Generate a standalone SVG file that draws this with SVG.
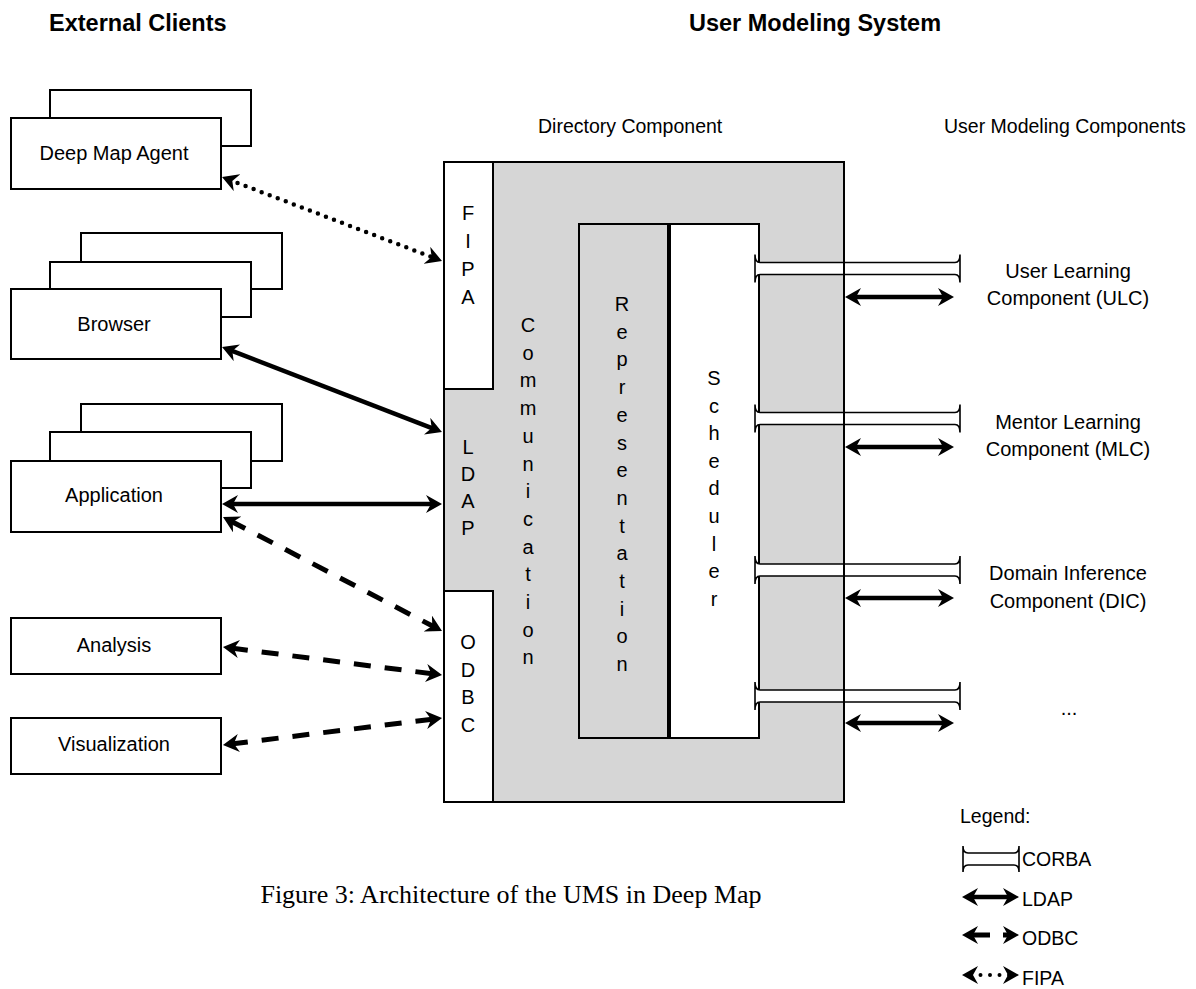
<svg xmlns="http://www.w3.org/2000/svg" width="1196" height="989" viewBox="0 0 1196 989">
<style>
text{font-family:"Liberation Sans",Arial,sans-serif;font-size:20px;fill:#000}
.hdr{font-weight:bold;font-size:23.5px}
.lbl{font-size:19.5px}
.mid{text-anchor:middle}
.box{fill:#fff;stroke:#000;stroke-width:2}
.gray{fill:#d6d6d6;stroke:#000;stroke-width:2}
.pipe{fill:#fff;stroke:#000;stroke-width:1.6;stroke-linejoin:miter}
.ldap{fill:none;stroke:#000;stroke-width:4.5;marker-start:url(#ah);marker-end:url(#ah)}
.odbc{fill:none;stroke:#000;stroke-width:5;stroke-dasharray:17 14;marker-start:url(#ah);marker-end:url(#ah)}
.fipa{fill:none;stroke:#000;stroke-width:4.5;stroke-linecap:round;stroke-dasharray:0 8.6;marker-start:url(#ah);marker-end:url(#ah)}
.cap{font-family:"Liberation Serif","Times New Roman",serif;font-size:26px}
</style>
<defs>
<marker id="ah" markerUnits="userSpaceOnUse" viewBox="0 0 16 18" markerWidth="16" markerHeight="18" refX="8" refY="9" orient="auto-start-reverse">
<path d="M0,0 L16,9 L0,18 L5,9 Z" fill="#000"/>
</marker>
</defs>

<text class="hdr" x="49" y="31">External Clients</text>
<text class="hdr" x="689" y="31">User Modeling System</text>
<text class="lbl" x="538" y="133">Directory Component</text>
<text class="lbl" x="944" y="133">User Modeling Components</text>

<g id="deep-map-agent">
<rect class="box" x="50" y="90" width="201" height="56"/>
<rect class="box" x="11" y="118" width="210" height="71"/>
<text class="mid" x="114" y="160">Deep Map Agent</text>
</g>
<g id="browser">
<rect class="box" x="81" y="233" width="201" height="56"/>
<rect class="box" x="50" y="262" width="201" height="55"/>
<rect class="box" x="11" y="289" width="210" height="70"/>
<text class="mid" x="114" y="331">Browser</text>
</g>
<g id="application">
<rect class="box" x="81" y="404" width="201" height="57"/>
<rect class="box" x="50" y="432" width="201" height="56"/>
<rect class="box" x="11" y="461" width="210" height="71"/>
<text class="mid" x="114" y="502">Application</text>
</g>
<g id="analysis">
<rect class="box" x="11" y="618" width="210" height="56"/>
<text class="mid" x="114" y="652">Analysis</text>
</g>
<g id="visualization">
<rect class="box" x="11" y="718" width="210" height="56"/>
<text class="mid" x="114" y="751">Visualization</text>
</g>

<g id="directory-component">
<rect class="gray" x="444" y="162" width="400" height="640"/>
<text class="mid" x="528"><tspan x="528" y="332">C</tspan><tspan x="528" dy="27.7">o</tspan><tspan x="528" dy="27.7">m</tspan><tspan x="528" dy="27.7">m</tspan><tspan x="528" dy="27.7">u</tspan><tspan x="528" dy="27.7">n</tspan><tspan x="528" dy="27.7">i</tspan><tspan x="528" dy="27.7">c</tspan><tspan x="528" dy="27.7">a</tspan><tspan x="528" dy="27.7">t</tspan><tspan x="528" dy="27.7">i</tspan><tspan x="528" dy="27.7">o</tspan><tspan x="528" dy="27.7">n</tspan></text>
</g>
<g id="fipa">
<rect class="box" x="444" y="162" width="49" height="227"/>
<text class="mid"><tspan x="468" y="220">F</tspan><tspan x="468" dy="28">I</tspan><tspan x="468" dy="28">P</tspan><tspan x="468" dy="28">A</tspan></text>
</g>
<g id="ldap">
<text class="mid"><tspan x="468" y="454">L</tspan><tspan x="468" dy="27">D</tspan><tspan x="468" dy="27">A</tspan><tspan x="468" dy="27">P</tspan></text>
</g>
<g id="odbc">
<rect class="box" x="444" y="591" width="49" height="211"/>
<text class="mid"><tspan x="468" y="649">O</tspan><tspan x="468" dy="27.7">D</tspan><tspan x="468" dy="27.7">B</tspan><tspan x="468" dy="27.7">C</tspan></text>
</g>
<g id="representation">
<rect class="gray" x="579" y="224" width="89" height="514"/>
<text class="mid"><tspan x="622" y="311">R</tspan><tspan x="622" dy="27.7">e</tspan><tspan x="622" dy="27.7">p</tspan><tspan x="622" dy="27.7">r</tspan><tspan x="622" dy="27.7">e</tspan><tspan x="622" dy="27.7">s</tspan><tspan x="622" dy="27.7">e</tspan><tspan x="622" dy="27.7">n</tspan><tspan x="622" dy="27.7">t</tspan><tspan x="622" dy="27.7">a</tspan><tspan x="622" dy="27.7">t</tspan><tspan x="622" dy="27.7">i</tspan><tspan x="622" dy="27.7">o</tspan><tspan x="622" dy="27.7">n</tspan></text>
</g>
<g id="scheduler">
<rect class="box" x="670" y="224" width="89" height="514"/>
<text class="mid"><tspan x="714" y="385">S</tspan><tspan x="714" dy="27.6">c</tspan><tspan x="714" dy="27.6">h</tspan><tspan x="714" dy="27.6">e</tspan><tspan x="714" dy="27.6">d</tspan><tspan x="714" dy="27.6">u</tspan><tspan x="714" dy="27.6">l</tspan><tspan x="714" dy="27.6">e</tspan><tspan x="714" dy="27.6">r</tspan></text>
</g>

<g id="corba-pipes">
<path class="pipe" d="M760,262.5 H955 Q960,262.5 960,254.5 V282.5 Q960,274.5 955,274.5 H760 Q755,274.5 755,282.5 V254.5 Q755,262.5 760,262.5 Z"/>
<path class="pipe" d="M760,412.5 H955 Q960,412.5 960,404.5 V432.5 Q960,424.5 955,424.5 H760 Q755,424.5 755,432.5 V404.5 Q755,412.5 760,412.5 Z"/>
<path class="pipe" d="M760,564 H955 Q960,564 960,556 V584 Q960,576 955,576 H760 Q755,576 755,584 V556 Q755,564 760,564 Z"/>
<path class="pipe" d="M760,690 H955 Q960,690 960,682 V710 Q960,702 955,702 H760 Q755,702 755,710 V682 Q755,690 760,690 Z"/>
<line x1="844" y1="162" x2="844" y2="802" stroke="#000" stroke-width="2"/>
</g>

<g id="user-learning-component">
<text class="mid" x="1068" y="278">User Learning</text>
<text class="mid" x="1068" y="305">Component (ULC)</text>
</g>
<g id="mentor-learning-component">
<text class="mid" x="1068" y="429">Mentor Learning</text>
<text class="mid" x="1068" y="456">Component (MLC)</text>
</g>
<g id="domain-inference-component">
<text class="mid" x="1068" y="580">Domain Inference</text>
<text class="mid" x="1068" y="608">Component (DIC)</text>
</g>
<g id="more-components">
<text class="mid" x="1069" y="715">...</text>
</g>

<g id="connectors">
<path class="fipa" d="M229.5,179.9 L434.5,258.1"/>
<path class="ldap" d="M229.5,349.9 L434.5,429.1"/>
<path class="ldap" d="M230,504 L434,504"/>
<path class="odbc" d="M230.1,520.7 L434.9,627.3"/>
<path class="odbc" d="M230.9,648 L434.1,674"/>
<path class="odbc" d="M230.9,744 L434.1,719"/>
<path class="ldap" d="M853,297 L946,297"/>
<path class="ldap" d="M853,447 L946,447"/>
<path class="ldap" d="M853,598 L946,598"/>
<path class="ldap" d="M853,723 L946,723"/>
</g>

<g id="legend">
<text class="lbl" x="960" y="823">Legend:</text>
<path class="pipe" d="M968,853 H1014 Q1019,853 1019,846 V872 Q1019,865 1014,865 H968 Q963,865 963,872 V846 Q963,853 968,853 Z"/>
<text class="lbl" x="1022" y="866">CORBA</text>
<path class="ldap" d="M970,897 L1011,897"/>
<text class="lbl" x="1022" y="906">LDAP</text>
<path d="M970,935 L1011,935" fill="none" stroke="#000" stroke-width="5" stroke-dasharray="20 13 8 100" marker-start="url(#ah)" marker-end="url(#ah)"/>
<text class="lbl" x="1022" y="945">ODBC</text>
<path d="M970,975 L1011,975" fill="none" stroke="#000" stroke-width="4" stroke-linecap="round" stroke-dasharray="0 9.5" stroke-dashoffset="-1" marker-start="url(#ah)" marker-end="url(#ah)"/>
<text class="lbl" x="1022" y="985">FIPA</text>
</g>

<text class="cap mid" x="511" y="903">Figure 3: Architecture of the UMS in Deep Map</text>
</svg>
